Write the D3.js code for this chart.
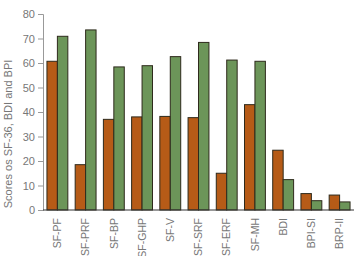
<!DOCTYPE html>
<html>
<head>
<meta charset="utf-8">
<script src="https://cdn.jsdelivr.net/npm/d3@7"></script>
<style>
  body { margin: 0; background: #fff; }
  svg text { font-family: "Liberation Sans", Arial, sans-serif; }
</style>
</head>
<body>
<svg id="chart" width="354" height="256"></svg>
<script>
var categories = ["SF-PF", "SF-PRF", "SF-BP", "SF-GHP", "SF-V", "SF-SRF", "SF-ERF", "SF-MH", "BDI", "BPI-SI", "BRP-II"];
var seriesA = [60.7, 18.5, 37.0, 38.0, 38.2, 37.7, 15.0, 43.0, 24.4, 6.7, 6.1];
var seriesB = [70.9, 73.5, 58.4, 58.9, 62.6, 68.4, 61.2, 60.7, 12.4, 3.8, 3.3];
var yTicks = [0, 10, 20, 30, 40, 50, 60, 70, 80];

var margin = {top: 14, right: 0, bottom: 46, left: 43}
  , width = 354 - margin.left - margin.right
  , height = 256 - margin.top - margin.bottom

var svg = d3.select("#chart");
var g = svg.append("g")
    .attr("transform", "translate(" + margin.left + "," + margin.top + ")");

var x = d3.scaleBand()
    .domain(categories)
    .range([0, width])
    .paddingInner(0.26)
    .paddingOuter(0.14);

var x1 = d3.scaleBand()
    .domain(["a", "b"])
    .range([0, x.bandwidth()]);

var y = d3.scaleLinear()
    .domain([0, 80])
    .range([height, 0]);

var data = categories.map(function(c, i) {
  return {cat: c, vals: [{k: "a", v: seriesA[i]}, {k: "b", v: seriesB[i]}]};
});
var colors = {a: "#b65b17", b: "#6c9559"};

var groups = g.selectAll(".grp")
    .data(data)
  .enter().append("g")
    .attr("class", "grp")
    .attr("transform", function(d) { return "translate(" + x(d.cat) + ",0)"; });

groups.selectAll("rect")
    .data(function(d) { return d.vals; })
  .enter().append("rect")
    .attr("x", function(d) { return x1(d.k); })
    .attr("width", x1.bandwidth())
    .attr("y", function(d) { return y(d.v); })
    .attr("height", function(d) { return height - y(d.v); })
    .style("fill", function(d) { return colors[d.k]; })
    .style("stroke", "#2e2a1c")
    .style("stroke-width", 1);

// y axis
var yAxis = g.append("g")
    .call(d3.axisLeft(y).tickValues(yTicks).tickSize(5).tickPadding(3));
yAxis.select(".domain").attr("stroke", "#999");
yAxis.selectAll(".tick line").attr("stroke", "#999");
yAxis.selectAll("text")
    .style("font-size", "11px")
    .attr("fill", "#777");

// x axis
var xAxis = g.append("g")
    .attr("transform", "translate(0," + height + ")")
    .call(d3.axisBottom(x).tickSize(0).tickPadding(0));
xAxis.select(".domain").attr("stroke", "#333").attr("d", "M0,0H" + width);
xAxis.selectAll("text")
    .style("font-size", "10.5px")
    .attr("fill", "#777")
    .attr("transform", "rotate(-90)")
    .attr("text-anchor", "end")
    .attr("dy", "0.35em")
    .attr("x", -8)
    .attr("y", 0);

svg.append("text")
    .attr("transform", "translate(12," + 134 + ") rotate(-90)")
    .attr("text-anchor", "middle")
    .style("font-size", "11px")
    .attr("fill", "#777")
    .text("Scores os SF-36, BDI and BPI");
</script>
</body>
</html>
